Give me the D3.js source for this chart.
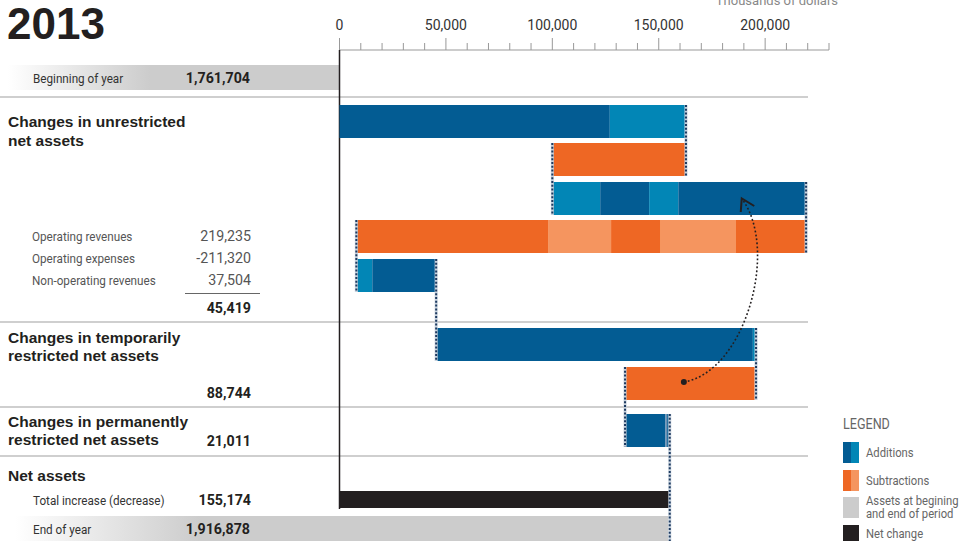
<!DOCTYPE html>
<html>
<head>
<meta charset="utf-8">
<script src="https://cdn.jsdelivr.net/npm/d3@7"></script>
<style>
  html,body{margin:0;padding:0;background:#fff;}
  svg{display:block;}
  .narrow{font-family:"Roboto","Liberation Sans",sans-serif;}
  .bold{font-family:"Liberation Sans","Arial",sans-serif;font-weight:bold;}
</style>
</head>
<body>
<svg id="chart" width="960" height="541"></svg>
<script>
// ---------- DATA ----------
const title = "2013";
const axisTicks = [0, 50000, 100000, 150000, 200000];
const axisMax = 230000;
const unitLabel = "Thousands of dollars";

const beginningLabel = "Beginning of year";
const beginningValue = "1,761,704";
const endLabel = "End of year";
const endValue = "1,916,878";

const sectionTitles = [
  ["Changes in unrestricted", "net assets"],
  ["Changes in temporarily", "restricted net assets"],
  ["Changes in permanently", "restricted net assets"],
  ["Net assets"]
];

const detailLabels = ["Operating revenues", "Operating expenses", "Non-operating revenues"];
const detailValues = ["219,235", "-211,320", "37,504"];
const unrestrictedTotal = "45,419";
const temporaryTotal = "88,744";
const permanentTotal = "21,011";
const netLabel = "Total increase (decrease)";
const netValueLabel = "155,174";
const netChange = 155174;

// waterfall bar segments (thousands of dollars, signed) and their shade
const segAmounts = [
  [127000, 35800],
  [-62800],
  [22500, 23000, 13700, 60035],
  [-32935, -35700, -23000, -29600, -90085],
  [7500, 30004],
  [148800, 1500],
  [-600, -60956],
  [19000, 800, 1211]
];
const segShades = [
  ["dark", "light"],
  ["dark"],
  ["light", "dark", "light", "dark"],
  ["dark", "light", "dark", "light", "dark"],
  ["light", "dark"],
  ["dark", "light"],
  ["light", "dark"],
  ["dark", "mid", "dark"]
];

const legendLabels = [["Additions"], ["Subtractions"], ["Assets at begining", "and end of period"], ["Net change"]];

// ---------- STYLE / LAYOUT ----------
const colors = {
  add: {dark: "#035c93", light: "#0286b6", mid: "#6a8fb2"},
  sub: {dark: "#ee6724", light: "#f5955f", mid: "#f5955f"},
  gray: "#cccccc",
  black: "#231f20"
};
const rowTops = [105, 143, 182, 220, 259, 328, 367, 414];
const barH = 33;

const svg = d3.select("#chart");
const x = d3.scaleLinear().domain([0, axisMax]).range([339.5, 829]);

const defs = svg.append("defs");
function grad(id, x1, x2) {
  const g = defs.append("linearGradient").attr("id", id)
    .attr("gradientUnits", "userSpaceOnUse")
    .attr("x1", x1).attr("x2", x2).attr("y1", 0).attr("y2", 0);
  g.append("stop").attr("offset", 0).attr("stop-color", "#ffffff");
  g.append("stop").attr("offset", 1).attr("stop-color", colors.gray);
}
grad("gBegin", 8, 150);
grad("gEnd", 15, 200);

// separators
[97, 322, 407, 456].forEach(y => {
  svg.append("line").attr("x1", 0).attr("x2", 808).attr("y1", y).attr("y2", y)
    .attr("stroke", "#cfcfcf").attr("stroke-width", 2);
});

// beginning band
svg.append("rect").attr("x", 0).attr("y", 65).attr("width", x(0)).attr("height", 25)
  .attr("fill", "url(#gBegin)");
// end band
svg.append("rect").attr("x", 0).attr("y", 516).attr("width", x(netChange) - 1.5).attr("height", 30)
  .attr("fill", "url(#gEnd)");

// ---------- AXIS ----------
const axisY = 50;
const minorTicks = d3.range(0, axisMax + 1, 10000);
const axisG = svg.append("g").attr("transform", `translate(0,${axisY})`);
axisG.append("line").attr("x1", x(0)).attr("x2", x(axisMax)).attr("y1", 0).attr("y2", 0)
  .attr("stroke", "#999").attr("stroke-width", 1);
axisG.selectAll("line.tick").data(minorTicks).join("line").attr("class", "tick")
  .attr("x1", d => x(d)).attr("x2", d => x(d))
  .attr("y1", d => axisTicks.includes(d) ? -12 : -7).attr("y2", 0)
  .attr("stroke", "#999").attr("stroke-width", 1);
axisG.selectAll("text").data(axisTicks).join("text")
  .attr("x", d => x(d)).attr("y", -20).attr("text-anchor", "middle")
  .attr("class", "narrow").attr("font-size", 14).attr("fill", "#333")
  .text(d => d3.format(",")(d));
svg.append("text").attr("x", 838).attr("y", 5).attr("text-anchor", "end")
  .attr("class", "narrow").attr("font-size", 13).attr("fill", "#888").text(unitLabel);

// vertical zero line
svg.append("line").attr("x1", x(0)).attr("x2", x(0)).attr("y1", axisY).attr("y2", 509)
  .attr("stroke", "#231f20").attr("stroke-width", 1.5);

// ---------- BARS ----------
let running = 0;
const bars = segAmounts.map((segs, i) => {
  const start = running;
  let cur = start;
  const parts = segs.map((v, j) => {
    const a = cur, b = cur + v;
    cur = b;
    return {a, b, type: v >= 0 ? "add" : "sub", shade: segShades[i][j]};
  });
  running = cur;
  return {start, end: cur, parts, top: rowTops[i]};
});

const barG = svg.append("g");
bars.forEach(bar => {
  barG.selectAll(null).data(bar.parts).join("rect")
    .attr("x", d => x(Math.min(d.a, d.b)))
    .attr("width", d => Math.abs(x(d.b) - x(d.a)))
    .attr("y", bar.top).attr("height", barH)
    .attr("fill", d => colors[d.type][d.shade]);
});

// net change bar
svg.append("rect").attr("x", x(0)).attr("y", 491).attr("width", x(netChange) - x(0)).attr("height", 17)
  .attr("fill", colors.black);

// dotted connectors
const connG = svg.append("g");
const conn = bars.map((bar, i) => {
  const next = bars[i + 1];
  return {v: bar.end, y1: bar.top, y2: next ? next.top + barH : 541};
});
connG.selectAll("line.halo").data(conn).join("line").attr("class", "halo")
  .attr("x1", d => x(d.v)).attr("x2", d => x(d.v)).attr("y1", d => d.y1).attr("y2", d => d.y2)
  .attr("stroke", "#c9d3de").attr("stroke-width", 3);
connG.selectAll("line.dot").data(conn).join("line").attr("class", "dot")
  .attr("x1", d => x(d.v)).attr("x2", d => x(d.v)).attr("y1", d => d.y1).attr("y2", d => d.y2)
  .attr("stroke", "#1d3a60").attr("stroke-width", 2).attr("stroke-dasharray", "2,1.8");

// curved annotation arrow
const p0 = [x(161800), bars[6].top + barH / 2 - 1.5];
const p3 = [x(189000), bars[2].top + barH / 2];
const path = d3.path();
path.moveTo(p0[0], p0[1]);
path.bezierCurveTo(p0[0] + 61, p0[1] - 10, p3[0] + 38, p3[1] + 51, p3[0], p3[1]);
svg.append("path").attr("d", path.toString()).attr("fill", "none")
  .attr("stroke", "#231f20").attr("stroke-width", 1.6).attr("stroke-dasharray", "1.8,2.2");
svg.append("circle").attr("cx", p0[0]).attr("cy", p0[1]).attr("r", 3).attr("fill", "#231f20");
svg.append("path")
  .attr("d", `M${p3[0] - 1},${p3[1] + 13.5} L${p3[0]},${p3[1]} L${p3[0] + 12.5},${p3[1] + 7.5}`)
  .attr("fill", "none").attr("stroke", "#231f20").attr("stroke-width", 2);

// ---------- LEFT TEXT ----------
svg.append("text").attr("x", 7).attr("y", 39).attr("class", "bold")
  .attr("font-size", 44).attr("font-weight", 900).attr("fill", "#231f20").text(title);

// narrow text is horizontally condensed to mimic the condensed face of the original
function label(txt, xx, yy, opts = {}) {
  const sx = opts.bold ? 1 : (opts.sx || 0.9);
  return svg.append("text")
    .attr("transform", `translate(${xx},${yy}) scale(${sx},1)`)
    .attr("class", opts.bold ? "bold" : "narrow")
    .attr("font-size", opts.size || 13)
    .attr("text-anchor", opts.anchor || "start")
    .attr("fill", opts.fill || "#333")
    .attr("font-weight", opts.weight || null)
    .text(txt);
}

label(beginningLabel, 33, 83, {size: 13, fill: "#333"});
label(beginningValue, 250, 83, {size: 15, anchor: "end", fill: "#231f20", weight: "bold", sx: 0.95});

const headY = [[127, 146], [343, 361], [427, 445], [481]];
sectionTitles.forEach((lines, i) => {
  lines.forEach((t, j) => label(t, 8, headY[i][j], {bold: true, size: 15.5, fill: "#231f20"}));
});

detailLabels.forEach((t, i) => {
  label(t, 32, 241 + i * 22, {size: 13, fill: "#555"});
  label(detailValues[i], 251, 241 + i * 22, {size: 15, anchor: "end", fill: "#555", sx: 0.95});
});
svg.append("line").attr("x1", 185).attr("x2", 260).attr("y1", 293.5).attr("y2", 293.5)
  .attr("stroke", "#666").attr("stroke-width", 1);
label(unrestrictedTotal, 251, 313, {size: 15, anchor: "end", fill: "#231f20", weight: "bold", sx: 0.95});
label(temporaryTotal, 251, 398, {size: 15, anchor: "end", fill: "#231f20", weight: "bold", sx: 0.95});
label(permanentTotal, 251, 446, {size: 15, anchor: "end", fill: "#231f20", weight: "bold", sx: 0.95});
label(netLabel, 33, 505, {size: 13, fill: "#333"});
label(netValueLabel, 251, 505, {size: 15, anchor: "end", fill: "#231f20", weight: "bold", sx: 0.95});
label(endLabel, 33, 534, {size: 13, fill: "#333"});
label(endValue, 250, 534, {size: 15, anchor: "end", fill: "#231f20", weight: "bold", sx: 0.95});

// ---------- LEGEND ----------
const lg = svg.append("g");
label("LEGEND", 843, 429, {size: 14, fill: "#666"});
const legendTops = [442, 470, 497, 525];
const legendSw = [
  [colors.add.dark, colors.add.light],
  [colors.sub.dark, colors.sub.light],
  [colors.gray, colors.gray],
  [colors.black, colors.black]
];
legendLabels.forEach((lines, i) => {
  const t = legendTops[i];
  const h = i === 3 ? 18 : 21;
  lg.append("rect").attr("x", 843).attr("y", t).attr("width", 8).attr("height", h).attr("fill", legendSw[i][0]);
  lg.append("rect").attr("x", 851).attr("y", t).attr("width", 8).attr("height", h).attr("fill", legendSw[i][1]);
  const y0 = lines.length === 2 ? t + 8 : (i === 3 ? t + 13 : t + 15);
  lines.forEach((ln, j) => label(ln, 866, y0 + j * 13, {size: 12.5, fill: "#666", sx: 0.9}));
});
</script>
</body>
</html>
